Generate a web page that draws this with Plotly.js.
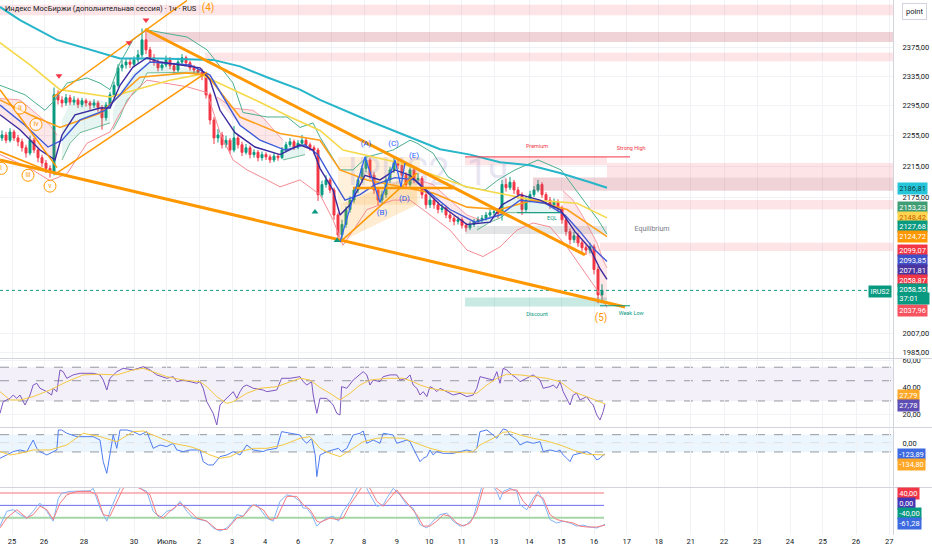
<!DOCTYPE html>
<html><head><meta charset="utf-8">
<script src="https://cdn.plot.ly/plotly-3.0.1.min.js"></script>
<style>html,body{margin:0;padding:0;background:#fff}#chart{width:932px;height:550px}</style>
</head><body><div id="chart"></div>
<script>
// ================= DATA =================
const firstOpen = 2252;
const closes = [2256,2249,2260,2252,2247,2239,2232,2249,2236,2226,
 2219,2212,2207,2310,2303,2299,2306,2300,2303,2297,
 2302,2299,2296,2299,2293,2279,2296,2310,2323,2347,
 2351,2355,2352,2358,2365,2386,2372,2361,2355,2347,
 2351,2358,2350,2344,2355,2361,2354,2347,2344,2341,
 2336,2310,2276,2252,2256,2243,2249,2236,2252,2243,
 2233,2239,2230,2233,2226,2230,2227,2223,2228,2226,
 2236,2243,2247,2240,2245,2249,2243,2239,2236,2178,
 2191,2197,2184,2152,2127,2140,2159,2171,2184,2197,
 2212,2223,2203,2184,2171,2178,2197,2210,2220,2216,
 2203,2191,2210,2197,2199,2178,2165,2171,2165,2159,
 2161,2152,2148,2144,2146,2139,2136,2140,2144,2146,
 2148,2152,2155,2156,2154,2191,2187,2194,2184,2178,
 2159,2171,2178,2184,2191,2178,2171,2165,2169,2161,
 2146,2131,2121,2126,2117,2111,2108,2112,2084,2053,
 2058.55];
const highs = [2262,2260,2265,2263,2256,2251,2243,2255,2252,2239,
 2230,2223,2216,2320,2316,2308,2311,2310,2308,2306,
 2306,2305,2302,2304,2302,2296,2300,2314,2328,2352,
 2358,2360,2361,2363,2372,2402,2398,2376,2366,2359,
 2356,2364,2362,2354,2361,2366,2364,2357,2351,2348,
 2346,2339,2313,2280,2264,2260,2255,2252,2268,2256,
 2247,2244,2242,2237,2236,2234,2233,2230,2232,2231,
 2240,2247,2252,2250,2249,2256,2252,2246,2242,2239,
 2196,2203,2200,2187,2155,2146,2163,2176,2188,2201,
 2216,2229,2226,2207,2188,2183,2201,2214,2228,2224,
 2219,2207,2215,2213,2206,2202,2182,2176,2174,2169,
 2166,2164,2156,2151,2150,2149,2142,2144,2147,2150,
 2152,2156,2159,2160,2159,2197,2199,2201,2197,2188,
 2181,2176,2183,2189,2197,2194,2181,2175,2173,2172,
 2164,2150,2135,2131,2129,2120,2114,2117,2115,2088,
 2066];
const lows = [2248,2245,2246,2248,2241,2234,2226,2229,2232,2220,
 2214,2206,2200,2203,2297,2293,2295,2296,2296,2292,
 2293,2294,2290,2292,2287,2263,2275,2292,2306,2320,
 2342,2346,2347,2348,2354,2361,2366,2355,2350,2342,
 2343,2348,2345,2339,2341,2351,2349,2343,2339,2337,
 2330,2305,2270,2244,2246,2238,2239,2231,2233,2238,
 2228,2230,2225,2226,2221,2222,2223,2219,2220,2222,
 2224,2233,2240,2236,2237,2242,2239,2235,2230,2170,
 2174,2187,2180,2146,2118,2122,2136,2155,2167,2180,
 2193,2207,2198,2179,2164,2166,2174,2193,2206,2211,
 2198,2186,2188,2193,2192,2173,2160,2161,2160,2154,
 2155,2148,2143,2139,2140,2135,2131,2133,2137,2141,
 2143,2145,2149,2151,2148,2145,2182,2184,2179,2173,
 2152,2156,2168,2175,2181,2174,2166,2160,2161,2156,
 2141,2126,2115,2117,2112,2106,2102,2104,2078,2043,
 2045];

// x axis (bar index) day labels
const dayTickPos  = [2.5,10.5,20.5,33,41.2,49.3,57.5,65.75,74,82.4,90.5,98.7,106.8,114.9,123,131.8,139.8,148,156.2,164.2,172.2,180.5,188.8,197,205.2,213.5,221.8];
const dayTickText = ['25','26','28','30','Июль','2','3','4','6','7','8','9','10','11','13','14','15','16','17','18','21','22','23','24','25','26','27'];
const priceTicks = [1985,2007,2175,2215,2255,2295,2335,2375];

// moving averages / bands  [barIndex, price]
const maCyan = [[-0.5,2432.7],[4.5,2414],[13.75,2386],[22,2372],[29.5,2360],[39.5,2360],[52.75,2358],[59.5,2349],[66.25,2334],[74.5,2317],[79.5,2303],[91.25,2276],[99.5,2258],[109.5,2237],[117,2230],[124.5,2220],[132,2216],[139.5,2206],[147,2194],[151.25,2186.81]];
const maYellow = [[-0.5,2382],[7,2351],[14.5,2317],[27,2307],[42,2330],[49.5,2338],[57,2319],[64.5,2300],[72,2280],[79.5,2262],[85.25,2236],[99.5,2219],[116.25,2188],[132.75,2171],[143.75,2167],[151.25,2148.42]];
const maOrange = [[-0.5,2303],[7,2283],[14.5,2266],[24.5,2285],[34.5,2334],[46.25,2340],[51.25,2337],[59.5,2280],[69.5,2258],[79.5,2249],[84.5,2210],[91.25,2197],[107.75,2180],[116.25,2162],[124.5,2159],[132.75,2171],[141.25,2159],[151.25,2124.72]];
const maFast = [[-0.5,2283],[4.5,2263],[9.5,2236],[13.25,2223],[15,2256],[18.25,2283],[24.5,2292],[27,2292],[29.5,2323],[32.75,2348],[36.25,2361],[39.5,2355],[49.5,2347],[52,2330],[54.5,2289],[58.25,2259],[63.25,2240],[69.5,2230],[74.5,2243],[77.75,2236],[79.5,2212],[82.75,2184],[84.5,2152],[87,2165],[90.75,2203],[94.5,2197],[98.25,2210],[102,2203],[105.75,2184],[109.5,2165],[116.25,2140],[122,2143],[125,2165],[129.5,2178],[134.5,2171],[139.5,2159],[143.25,2131],[147,2110],[149.5,2085],[151.25,2071.81]];
const maSlow = [[-0.5,2296],[5.75,2269],[11.5,2240],[15,2249],[19.5,2276],[25.75,2289],[29.5,2310],[33.25,2337],[37,2355],[47,2351],[52,2337],[55.75,2303],[59.5,2269],[64.5,2249],[70.75,2236],[75.75,2243],[79,2230],[82,2203],[85.75,2171],[89.5,2178],[93.25,2191],[98.25,2200],[103.25,2197],[107,2180],[112,2159],[118.25,2143],[124.5,2152],[129.5,2171],[135.75,2167],[140.75,2152],[144.5,2131],[148.25,2108],[151.25,2093.85]];
const bandUpper = [[-0.5,2323],[5.75,2310],[10.75,2289],[13.25,2303],[16.25,2326],[21.25,2333],[24.5,2326],[27,2317],[29.5,2354],[32.75,2386],[36.25,2400],[46.25,2390],[51.25,2372],[57.75,2326],[60.25,2286],[66.25,2280],[71.25,2280],[74.5,2266],[77.75,2272],[79.5,2253],[84.5,2210],[87.75,2210],[91.25,2227],[97.75,2236],[102,2249],[103.75,2245],[107.75,2232],[111.5,2201],[115.75,2188],[120.75,2184],[124,2197],[128.25,2210],[132.25,2219],[134,2223],[139.75,2210],[144.75,2175],[149,2146],[151.25,2127.68]];
const bandLower = [[-0.5,2230],[7,2212],[12,2196],[16.25,2205],[21.25,2245],[27,2260],[29.5,2285],[32.75,2313],[36.25,2330],[41.25,2326],[46.25,2321],[51.25,2313],[54.5,2259],[57.75,2223],[61.25,2210],[66.25,2197],[69.5,2188],[74.5,2197],[79.5,2178],[82.75,2146],[85.25,2114],[88.25,2136],[91.25,2159],[97.75,2171],[102,2171],[106.25,2155],[112,2133],[116.25,2108],[120.25,2100],[124.5,2112],[128.75,2133],[132.75,2142],[137,2137],[141.25,2112],[145.25,2084],[149.5,2054],[151.25,2037.96]];

// trend-cloud shading: pink = bearish, green = bullish  (top edge, bottom edge)
const pinkClouds = [
  {top:[[-0.5,2305],[4.5,2303],[8.25,2286],[12,2269],[13.75,2256]], bottom:[[-0.5,2283],[4.5,2263],[9.5,2236],[13.25,2223],[13.75,2226]]},
  {top:[[53.75,2307],[57.75,2292],[62.75,2289],[65.25,2279],[70.25,2249]], bottom:[[53.75,2303],[59.5,2269],[64.5,2249],[70.25,2239]]},
  {top:[[104,2197],[107.75,2191],[112,2171],[116.25,2152],[119.5,2146]], bottom:[[104,2193],[107.75,2171],[112,2156],[116.25,2140],[119.5,2142]]},
  {top:[[140.25,2183],[142.75,2171],[145.25,2150],[147,2133],[148.75,2117],[150.25,2096],[151.25,2086]], bottom:[[140.25,2140],[143.25,2117],[145.75,2108],[148.25,2093],[150.25,2047],[151.25,2047]]}
];
const greenClouds = [
  {top:[[15,2276],[17,2299],[24.5,2303],[27,2299]], bottom:[[15,2223],[17,2245],[19.5,2259],[24.5,2267],[27,2272]]},
  {top:[[27.75,2289],[29.5,2313],[32.75,2340],[36.25,2354],[49.5,2344]], bottom:[[27.75,2263],[29.5,2280],[31.25,2303],[34.5,2320],[36.25,2340],[49.5,2341]]},
  {top:[[70.25,2239],[75.75,2245]], bottom:[[70.25,2223],[75.75,2230]]},
  {top:[[118.75,2143],[124.5,2156],[126.25,2171],[130.25,2175],[134.5,2171],[139.5,2161]], bottom:[[118.75,2133],[122,2143],[124.5,2148],[126.25,2155],[139.5,2155]]}
];

// zones [x0, x1, low, high]
const zonesPink  = [[-0.5,223,2421,2436],[50.75,223,2356,2368],[115.75,151.25,2216,2227],[151.25,223,2200,2219],[147,223,2159,2171],[149.5,223,2107,2117]];
const zonesDark  = [[36.25,223,2383,2397],[132.75,223,2183,2200]];
const zoneEquil  = [115.75,151.25,2128,2138];
const zoneDisc   = [115.75,151.25,2039,2050];

// trend lines [[x,price],[x,price]]
const thickLines = [[[-0.5,2223],[155.75,2038.6]],[[35.75,2401],[145.75,2102]]];
const thinLines  = [[[12.75,2307],[46.25,2442]],[[13.75,2206],[51.25,2341]],[[-0.5,2317],[13.75,2213]],[[-0.5,2234],[13.75,2204]],[[84.5,2118],[103.75,2206]]];
const triangleBase = [[87.75,2186.5],[112.75,2186.5]];
const patternRect = [84,104.5,2165,2227];
const patternTri = [[84.5,2118],[84.5,2165],[103.75,2206],[103.75,2165]];
const zigzag = [[84.5,2118],[90.75,2227],[94.5,2168],[98.25,2223],[99.75,2188],[100.75,2219]];
const zigzagLabels = [['(A)',91,2244],['(B)',95,2154],['(C)',97.9,2244],['(D)',100.6,2173],['(E)',103,2228]];
const waveLabels = [['(4)',51.5,2431],['(5)',149.75,2025]];
const circleLabels = [['ii',4.5,2292],['iv',8.5,2270],['iii',6.5,2203],['v',12,2189],['i',-0.2,2212]];
const smcTexts = [['Premium',133.75,2241,'#f23645'],['Strong High',157.3,2238,'#f23645'],['Equilibrium',162.5,2134,'#787b86'],['Discount',133.75,2029,'#089981'],['Weak Low',157.3,2031,'#089981'],['EQL',137.5,2147,'#089981']];
const premiumLine = [[115.75,2227],[157,2227]];
const weakLowLine = [[149.5,2040],[157,2040]];
const eqlLine = [[128.75,2155],[139.5,2155]];
const sellMarks = [[14.25,2336],[31.75,2382],[36,2414]];
const buyMarks = [[78.25,2156],[83.75,2120]];

// oscillators [barIndex, value]
const rsiLine = [[-0.5,20.8],[0.3,29.5],[2.0,31.9],[2.8,34.4],[3.7,31.9],[4.5,34.4],[5.75,27.0],[7.0,34.4],[7.8,41.8],[8.7,43.1],[9.5,39.4],[11.2,36.9],[12.4,34.4],[12.8,39.4],[13.7,36.9],[14.5,53.0],[15.3,51.7],[16.2,46.8],[17.8,49.3],[19.5,50.5],[21.2,50.5],[22.8,50.5],[24.5,49.3],[25.3,45.6],[26.2,38.1],[27.0,46.8],[28.7,51.7],[30.3,54.2],[32.8,53.0],[35.3,55.4],[37.0,53.0],[38.7,49.3],[41.2,46.8],[42.8,48.0],[43.7,44.3],[45.3,45.5],[47.0,44.3],[48.7,43.1],[49.5,44.3],[50.3,39.4],[51.2,29.5],[52.8,20.8],[53.7,12.2],[54.5,27.0],[55.3,29.5],[56.2,31.9],[57.0,34.4],[57.8,36.9],[58.7,31.9],[59.5,36.9],[60.3,40.6],[61.2,41.8],[62.8,39.4],[65.3,38.1],[66.2,36.9],[68.7,38.1],[69.9,46.8],[72.0,46.8],[74.5,48.0],[75.3,44.3],[76.2,41.8],[77.4,44.3],[77.8,34.4],[78.7,20.8],[79.5,32],[81.2,31.9],[82.8,27.0],[83.7,20.8],[84.5,19.6],[84.9,40.6],[86.2,39.4],[87.8,45.5],[89.5,49.3],[90.3,51.7],[91.2,49.3],[92.0,41.8],[92.8,45.5],[94.5,44.3],[95.3,48.0],[97.0,49.3],[98.7,49.3],[99.5,45.5],[101.2,46.8],[102.0,49.3],[102.8,41.8],[103.7,39.4],[104.5,34.4],[105.3,36.9],[106.2,33.2],[107.0,40.6],[107.8,39.4],[108.7,36.9],[109.5,39.4],[111.2,36.9],[112.8,34.4],[114.5,35.7],[116.2,33.2],[117.8,34.4],[118.7,39.4],[119.5,48.0],[121.2,46.8],[122.8,45.5],[123.7,51.7],[124.5,43.1],[125.3,54.2],[126.2,53.0],[127.0,50.5],[128.7,46.8],[129.5,44.3],[131.2,46.8],[132.8,49.3],[134.5,45.5],[135.3,39.4],[137.0,40.6],[137.8,41.8],[138.7,39.4],[139.5,44.3],[140.3,36.9],[141.2,31.9],[142.0,27.0],[142.8,34.4],[143.7,35.7],[144.5,30.7],[145.3,31.9],[146.2,33.2],[147.0,29.5],[147.8,27.0],[148.7,19.6],[149.5,15.9],[150.3,22.1],[150.75,27.78]];
const rsiMa = [[-0.5,36.9],[2.0,30.7],[4.5,30.7],[7.8,33.2],[12.0,38.1],[16.2,44.3],[20.3,49.3],[24.5,49.8],[28.7,49.3],[32.8,53.0],[35.3,54.2],[37.8,51.7],[41.2,48.0],[45.3,45.5],[49.5,44.3],[51.2,40.6],[53.7,33.2],[56.2,28.2],[57.8,29.5],[61.2,35.7],[64.5,39.4],[68.7,40.6],[72.0,44.3],[74.5,46.8],[77.0,45.5],[79.5,40],[82.0,35.7],[84.5,30.7],[87.0,35.7],[89.5,41.8],[92.0,45.5],[96.2,46.8],[100.3,46.8],[102.8,44.3],[104.5,41.8],[107.0,39.4],[109.5,38.1],[112.8,36.9],[116.2,35.7],[118.7,35.7],[121.2,41.8],[123.7,46.8],[126.2,49.8],[129.5,49.3],[132.8,48.0],[136.2,46.8],[139.5,44.3],[142.8,36.9],[146.2,33.2],[150.75,27.79]];
const cciLine = [[-0.5,-173],[1.2,-135],[2.8,-96],[4.5,-77],[6.2,-96],[7.8,38],[8.7,-58],[9.5,-96],[11.2,-135],[12.0,-116],[12.8,-96],[13.7,-77],[14.1,154],[14.9,154],[16.2,116],[18.7,77],[21.2,77],[22.8,77],[24.5,38],[25.3,-212],[26.2,-347],[27.0,-135],[27.8,96],[28.7,-58],[29.5,154],[31.2,154],[32.8,135],[34.5,96],[36.2,135],[37.8,-58],[39.5,-19],[41.2,-38],[42.8,0],[43.7,-77],[45.3,-96],[47.0,-77],[49.5,-77],[50.3,-212],[51.6,-250],[52.8,-250],[53.7,-193],[54.5,-154],[56.2,-135],[57.8,-96],[59.5,-135],[61.2,-19],[62.8,-77],[65.3,-96],[66.2,-77],[68.7,-58],[69.9,135],[72.0,116],[74.5,96],[75.3,38],[76.2,0],[77.4,58],[78.3,-135],[78.7,-385],[79.5,-135],[81.2,-96],[82.8,-77],[84.1,-58],[84.9,-96],[86.2,-58],[87.8,96],[89.5,116],[90.3,142],[91.2,0],[92.0,19],[92.8,38],[94.5,0],[95.3,116],[97.8,96],[98.7,0],[101.2,38],[102.0,19],[102.8,-58],[103.7,-135],[104.5,-212],[105.3,-173],[106.2,-154],[107.0,-77],[107.8,-135],[108.7,-96],[110.3,-116],[112.8,-116],[114.5,-96],[116.2,-77],[117.8,-96],[118.7,-58],[119.5,135],[121.2,154],[122.8,96],[123.7,58],[124.5,116],[125.3,166],[126.2,154],[127.0,96],[128.7,38],[129.5,-19],[131.2,19],[132.8,0],[134.5,19],[135.3,-96],[137.0,-77],[138.7,-96],[139.5,-77],[140.3,-135],[141.2,-173],[142.0,-212],[142.8,-135],[144.5,-116],[146.2,-96],[147.0,-116],[147.8,-135],[148.7,-193],[149.5,-173],[150.3,-135],[150.75,-123.89]];
const cciMa = [[-0.5,-96],[2.0,-135],[4.5,-116],[7.8,-77],[12.0,-77],[16.2,-19],[20.3,116],[24.5,77],[28.7,19],[32.8,135],[35.3,142],[38.7,77],[42.8,0],[47.0,-38],[49.5,-77],[52.0,-135],[54.5,-173],[57.0,-154],[59.5,-96],[62.8,-58],[66.2,-58],[70.3,-19],[74.5,58],[77.0,77],[79.5,-58],[82.0,-116],[84.5,-154],[87.8,-58],[90.3,19],[93.7,58],[96.2,65],[100.3,58],[102.8,12],[104.5,-19],[107.0,-58],[110.3,-96],[114.5,-104],[117.8,-96],[119.5,-19],[122.8,58],[125.3,127],[127.0,135],[129.5,96],[132.8,58],[136.2,27],[139.5,-19],[142.8,-77],[146.2,-127],[150.75,-134.8]];
const stochK = [[-0.5,-67],[1.2,-19],[2.8,-14],[4.5,-30],[6.2,-41],[7.8,-19],[8.7,-3],[9.5,7],[11.2,-19],[12.8,-51],[14.1,23],[14.9,39],[17.0,45],[19.5,47],[22.0,47],[22.8,55],[24.5,-9],[26.2,-51],[27.0,-19],[28.7,34],[29.5,55],[31.2,77],[32.8,77],[33.7,61],[34.5,55],[36.2,45],[37.8,-19],[39.5,-41],[41.2,-19],[42.8,-14],[44.5,13],[46.2,-19],[47.8,-41],[49.5,-46],[51.2,-51],[52.8,-73],[54.5,-83],[56.2,-73],[57.8,-51],[58.7,-30],[60.3,-35],[62.0,-3],[63.7,2],[65.3,-25],[66.2,-41],[67.8,-51],[69.5,13],[71.2,34],[72.8,29],[74.5,13],[75.3,-9],[76.2,-9],[77.4,-30],[78.7,-67],[79.5,-57],[81.2,-41],[82.8,-35],[84.1,-51],[85.3,-19],[87.0,13],[88.7,55],[90.3,71],[91.2,55],[92.0,34],[93.7,-3],[95.3,2],[96.2,23],[97.8,55],[99.5,34],[101.2,2],[102.8,-9],[104.5,-62],[106.2,-73],[107.8,-51],[109.5,-30],[111.2,-25],[112.8,-51],[114.5,-67],[116.2,-62],[117.8,-41],[119.5,34],[120.3,77],[122.0,77],[123.7,45],[124.5,18],[125.3,45],[127.0,55],[128.7,45],[129.5,2],[131.2,-14],[132.8,23],[134.1,45],[135.3,13],[137.0,-46],[138.7,-57],[140.3,-51],[142.0,-57],[143.7,-67],[145.3,-64],[147.0,-70],[148.7,-73],[149.9,-67],[150.75,-61.28]];
const stochD = [[-0.5,-73],[1.2,-41],[3.7,-14],[6.2,-41],[7.8,-30],[9.5,-3],[11.2,-14],[12.8,-46],[14.5,7],[16.2,34],[18.7,45],[22.0,45],[23.7,34],[25.3,-30],[27.0,-35],[28.7,13],[30.3,55],[32.0,66],[34.5,55],[37.0,34],[38.7,-30],[40.3,-41],[42.0,-19],[44.5,7],[46.2,-9],[48.7,-41],[51.2,-51],[53.7,-78],[56.2,-78],[58.7,-41],[60.3,-35],[62.8,2],[65.3,-14],[67.0,-46],[68.7,-41],[71.2,29],[73.7,29],[75.3,2],[77.0,-14],[78.7,-51],[79.5,-55],[82.0,-41],[83.7,-46],[85.3,-41],[87.0,2],[88.7,34],[90.3,66],[92.0,55],[93.7,13],[95.3,-3],[97.0,23],[98.7,50],[100.3,23],[102.0,-3],[103.7,-30],[105.3,-67],[107.0,-67],[108.7,-51],[110.3,-30],[112.0,-35],[113.7,-57],[115.3,-67],[117.0,-57],[118.7,-19],[120.3,55],[122.0,71],[123.7,55],[125.3,39],[127.0,50],[128.7,50],[130.3,13],[132.0,-9],[133.7,34],[135.3,23],[137.0,-30],[138.7,-46],[140.3,-51],[142.8,-57],[144.5,-67],[146.2,-70],[148.7,-70],[150.75,-64]];
const stochLevels = [40, 0, -40];
const rsiLevels = [55, 45, 30];
const cciLevels = [100, 0, -100];

// last-value labels on the right scale
const priceLabels = [2186.81,2153.23,2148.42,2127.68,2124.72,2099.07,2093.85,2071.81,2058.87,2058.55,2037.96];
const countdownText = '37:01';
const rsiLabels = [27.79, 27.78];
const cciLabels = [-123.89, -134.80];
const stochLabels = [40, 0, -40, -61.28];

// ================= BUILD =================
const xs = closes.map((_, i) => i);
const opens = [firstOpen].concat(closes.slice(0, -1));
const fmt = v => v.toFixed(2).replace('.', ',');
const X = a => a.map(p => p[0]);
const Y = a => a.map(p => p[1]);
const lastX = xs[xs.length - 1] + 0.5;
const traces = [];
const line = (pts, color, width, yaxis, dash) => traces.push({type:'scatter', mode:'lines', x:X(pts), y:Y(pts), yaxis:yaxis||'y', line:{color, width, dash:dash||'solid'}, hoverinfo:'skip'});
const rect = (z, color) => traces.push({type:'scatter', mode:'lines', x:[z[0],z[1],z[1],z[0],z[0]], y:[z[2],z[2],z[3],z[3],z[2]], fill:'toself', fillcolor:color, line:{width:0}, hoverinfo:'skip'});
const cloud = (c, fill) => {
  const pts = c.top.concat(c.bottom.slice().reverse());
  traces.push({type:'scatter', mode:'lines', x:X(pts).concat([pts[0][0]]), y:Y(pts).concat([pts[0][1]]), fill:'toself', fillcolor:fill, line:{width:0}, hoverinfo:'skip'});
};

// zones
zonesPink.forEach(z => rect(z, 'rgba(242,54,69,0.13)'));
zonesDark.forEach(z => rect(z, 'rgba(190,80,95,0.25)'));
rect(zoneEquil, 'rgba(120,123,134,0.2)');
rect(zoneDisc, 'rgba(8,153,129,0.22)');
rect(patternRect, 'rgba(255,167,38,0.16)');
traces.push({type:'scatter', mode:'lines', x:X(patternTri).concat([patternTri[0][0]]), y:Y(patternTri).concat([patternTri[0][1]]), fill:'toself', fillcolor:'rgba(255,152,0,0.18)', line:{width:0}, hoverinfo:'skip'});

// watermark
traces.push({type:'scatter', mode:'text', x:[106.5], y:[2203], text:['IRUS2, 1ч'], textfont:{size:38, color:'rgba(150,140,200,0.22)', family:'Roboto'}, hoverinfo:'skip'});

// trend clouds
pinkClouds.forEach(c => { cloud(c, 'rgba(242,54,69,0.12)'); line(c.top, 'rgba(242,90,100,0.55)', 1); });
greenClouds.forEach(c => { cloud(c, 'rgba(8,153,129,0.10)'); line(c.bottom, 'rgba(60,160,110,0.7)', 1); });

// last price dotted line
line([[-0.5, closes[closes.length-1]],[223, closes[closes.length-1]]], '#089981', 1, 'y', 'dot');

// bands & MAs
line(bandUpper, '#4caf8f', 1);
line(bandLower, '#f58c94', 1);
line(maCyan, '#26b5c9', 2);
line(maYellow, '#f5d94a', 1.6);
line(maOrange, '#ff9f1a', 1.6);

// candles
traces.push({type:'candlestick', x:xs, open:opens, high:highs, low:lows, close:closes, xaxis:'x', yaxis:'y',
  increasing:{line:{color:'#089981', width:1}, fillcolor:'#089981'},
  decreasing:{line:{color:'#f23645', width:1}, fillcolor:'#f23645'},
  whiskerwidth:0, hoverinfo:'skip'});

line(maSlow, '#3d5ad8', 1.4);
line(maFast, '#3a2a9e', 1.4);

// trend lines
thickLines.forEach(l => line(l, '#ff9800', 3));
thinLines.forEach(l => line(l, '#ff9800', 1.5));
line(triangleBase, '#ff9800', 2.5);
line(zigzag, '#2962ff', 1.2);
line(premiumLine, '#f23645', 1);
line(weakLowLine, '#089981', 1);
line(eqlLine, '#089981', 1);

// markers and texts
traces.push({type:'scatter', mode:'markers', x:X(sellMarks), y:Y(sellMarks), marker:{symbol:'triangle-down', size:6, color:'#f23645'}, hoverinfo:'skip'});
traces.push({type:'scatter', mode:'markers', x:X(buyMarks), y:Y(buyMarks), marker:{symbol:'triangle-up', size:6, color:'#089981'}, hoverinfo:'skip'});
traces.push({type:'scatter', mode:'text', x:zigzagLabels.map(p=>p[1]), y:zigzagLabels.map(p=>p[2]), text:zigzagLabels.map(p=>p[0]), textfont:{size:8, color:'#2962ff'}, hoverinfo:'skip'});
traces.push({type:'scatter', mode:'text', x:waveLabels.map(p=>p[1]), y:waveLabels.map(p=>p[2]), text:waveLabels.map(p=>p[0]), textfont:{size:10, color:'#ff9800'}, hoverinfo:'skip'});
traces.push({type:'scatter', mode:'markers+text', x:circleLabels.map(p=>p[1]), y:circleLabels.map(p=>p[2]), text:circleLabels.map(p=>p[0]), textposition:'middle center', marker:{symbol:'circle', size:12, color:'rgba(255,255,255,0.6)', line:{color:'#ff9800', width:1}}, textfont:{size:7, color:'#ff9800'}, hoverinfo:'skip'});
smcTexts.forEach(t => traces.push({type:'scatter', mode:'text', x:[t[1]], y:[t[2]], text:[t[0]], textfont:{size: t[0]==='Equilibrium'?7:5.5, color:t[3]}, hoverinfo:'skip'}));

// oscillators
line(rsiLine, '#7e57c2', 1, 'y2');
line(rsiMa, '#f5c842', 1, 'y2');
line(cciLine, '#4f7cf0', 1, 'y3');
line(cciMa, '#f5c842', 1, 'y3');
line([[-0.5,stochLevels[0]],[lastX,stochLevels[0]]], '#f7a1a6', 1.5, 'y4');
line([[-0.5,stochLevels[1]],[lastX,stochLevels[1]]], '#6b6bf0', 1, 'y4');
line([[-0.5,stochLevels[2]],[lastX,stochLevels[2]]], '#a5d6a7', 2, 'y4');
line(stochK, '#82b4f5', 1, 'y4');
line(stochD, '#f77c80', 1, 'y4');

// ================= LAYOUT =================
const H = 535, W = 893;
const py = p => 1 - p / H;
const shapes = [];
const hl = (yref, v, color, dash, width) => shapes.push({type:'line', xref:'paper', x0:0, x1:1, yref, y0:v, y1:v, line:{color, width:width||1, dash:dash||'solid'}, layer:'below'});
shapes.push({type:'rect', xref:'paper', x0:0, x1:1, yref:'y2', y0:rsiLevels[2], y1:rsiLevels[0], fillcolor:'rgba(126,87,194,0.09)', line:{width:0}, layer:'below'});
rsiLevels.forEach(v => hl('y2', v, '#9598a1', 'dash'));
shapes.push({type:'rect', xref:'paper', x0:0, x1:1, yref:'y3', y0:cciLevels[2], y1:cciLevels[0], fillcolor:'rgba(33,150,243,0.09)', line:{width:0}, layer:'below'});
cciLevels.forEach(v => hl('y3', v, '#9598a1', 'dash'));
[358.5, 427.5, 487.5].forEach(p => shapes.push({type:'line', xref:'paper', yref:'paper', x0:0, x1:1.05, y0:py(p), y1:py(p), line:{color:'#d1d4dc', width:1}}));

const ann = [];
const box = (text, bg, fg, p) => ann.push({xref:'paper', yref:'paper', x:1 + 4/W, y:py(p), xanchor:'left', yanchor:'middle', text, showarrow:false, bgcolor:bg, font:{size:7.5, color:fg}, borderpad:1.2});
const priceLabelStyle = [['#26c6da','#0d3b40',188.3],['#3f9d74','#fff',207.3],['#ffd54f','#c25e00',217],['#089981','#fff',226.7],['#ff9800','#fff',236.7],['#f23645','#fff',250.7],['#3f51c8','#fff',260.3],['#4a349f','#fff',270.3],['#f23645','#fff',280.7],['#089981','#fff',289.8],['#f7525f','#fff',310.3]];
priceLabels.forEach((v, k) => { const s = priceLabelStyle[k]; box(fmt(v), s[0], s[1], s[2]); });
ann.push({xref:'paper', yref:'paper', x:1 + 4/W, y:py(298.8), xanchor:'left', yanchor:'middle', text:countdownText, showarrow:false, bgcolor:'#089981', font:{size:7.5, color:'#fff'}, borderpad:1.2, width:29, align:'left'});
[['#ffa726','#fff',395.3],['#5e4db2','#fff',405.2]].forEach((s,k) => box(fmt(rsiLabels[k]), s[0], s[1], s[2]));
[['#3d6ae0','#fff',454.3],['#ffa726','#fff',464.3]].forEach((s,k) => box(fmt(cciLabels[k]), s[0], s[1], s[2]));
[['#f23645','#fff',493.3],['#4536b4','#fff',503.7],['#089981','#fff',513.7],['#3d6ae0','#fff',523.7]].forEach((s,k) => box(fmt(stochLabels[k]), s[0], s[1], s[2]));
ann.push({xref:'paper', yref:'paper', x:1 - 1/W, y:py(291), xanchor:'right', yanchor:'middle', text:'IRUS2', showarrow:false, bgcolor:'#089981', font:{size:7, color:'#fff'}, borderpad:1.5});
ann.push({xref:'paper', yref:'paper', x:1 + 21/W, y:py(11), xanchor:'center', yanchor:'middle', text:'point', showarrow:false, bgcolor:'#fff', bordercolor:'#d1d4dc', borderwidth:1, borderpad:3, font:{size:7.5, color:'#131722'}});
ann.push({xref:'paper', yref:'paper', x:3/W, y:py(9), xanchor:'left', yanchor:'middle', text:'Индекс МосБиржи (дополнительная сессия) · 1ч · RUS', showarrow:false, font:{size:7.5, color:'#131722'}});

const grid = '#f0f2f6';
const yCommon = {side:'right', anchor:'x', showgrid:true, gridcolor:grid, zeroline:false, showline:true, linecolor:'#d1d4dc', ticks:'outside', ticklen:7, tickcolor:'rgba(0,0,0,0)', tickfont:{size:7.5, color:'#131722'}, fixedrange:true};
const layout = {
  width:932, height:550, margin:{l:0, r:39, t:0, b:15},
  paper_bgcolor:'#fff', plot_bgcolor:'#fff', showlegend:false, hovermode:false, dragmode:false,
  font:{family:'Roboto, "DejaVu Sans", sans-serif', size:7.5, color:'#131722'},
  xaxis:{domain:[0,1], anchor:'y4', range:[-0.5, 222.75], tickvals:dayTickPos, ticktext:dayTickText, showgrid:true, gridcolor:grid, zeroline:false, ticks:'', tickfont:{size:7.5, color:'#131722'}, rangeslider:{visible:false}, fixedrange:true, showline:false},
  yaxis: Object.assign({}, yCommon, {domain:[py(358),1], type:'log', range:[3.29626, 3.38787], tickvals:priceTicks, ticktext:priceTicks.map(fmt)}),
  yaxis2: Object.assign({}, yCommon, {domain:[py(427),py(359)], range:[10.7, 61.1], tickvals:[20,40,60], ticktext:['20,00','40,00','60,00']}),
  yaxis3: Object.assign({}, yCommon, {domain:[py(487),py(428)], range:[-505, 177], tickvals:[0], ticktext:['0,00']}),
  yaxis4: Object.assign({}, yCommon, {domain:[0,py(488)], range:[-95.8, 56.1], tickvals:[], showgrid:false}),
  shapes, annotations:ann
};
Plotly.newPlot('chart', traces, layout, {staticPlot:true, displayModeBar:false});
</script></body></html>
